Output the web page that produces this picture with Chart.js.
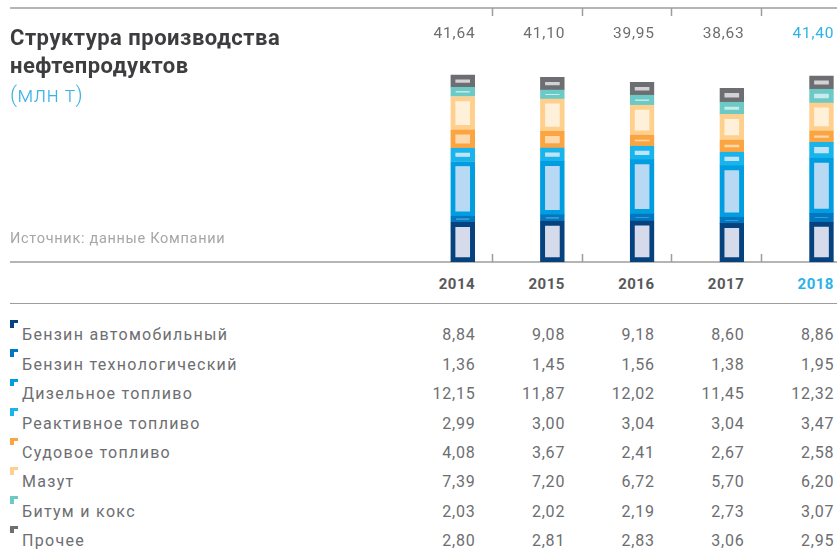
<!DOCTYPE html>
<html>
<head>
<meta charset="utf-8">
<script src="https://cdn.jsdelivr.net/npm/chart.js@4.4.0/dist/chart.umd.min.js"></script>
<style>
body { margin: 0; width: 837px; height: 549px; overflow: hidden; background: #fff; position: relative; font-family: Roboto, sans-serif; }
#chart { position: absolute; left: 0; top: 0; }
.t { position: absolute; white-space: nowrap; line-height: 1; }
.hr { position: absolute; left: 10px; width: 827px; height: 0; border-top: 1.5px solid #9d9d9d; }
.mark { position: absolute; left: 10px; width: 3.5px; height: 4.5px; border-top: 3.5px solid; border-left: 4px solid; }
</style>
</head>
<body>
<canvas id="chart" width="837" height="270"></canvas>
<div class="t" style="left:10px;top:26.5px;font-size:22px;font-weight:700;letter-spacing:0.5px;color:#3d3d3f">Структура производства</div>
<div class="t" style="left:10px;top:55px;font-size:22px;font-weight:700;letter-spacing:0.5px;color:#3d3d3f">нефтепродуктов</div>
<div class="t" style="left:10px;top:84px;font-size:22px;font-weight:300;letter-spacing:0.3px;color:#3fb3e7">(млн т)</div>
<div class="t" style="left:10px;top:231.5px;font-size:14.5px;letter-spacing:0.7px;color:#a6a6a8">Источник: данные Компании</div>
<div class="hr" style="top:303px"></div>
<div id="table"></div>
<script>
var years = ["2014", "2015", "2016", "2017", "2018"];
var totals = [41.64, 41.10, 39.95, 38.63, 41.40];
var products = ["Бензин автомобильный", "Бензин технологический", "Дизельное топливо", "Реактивное топливо",
    "Судовое топливо", "Мазут", "Битум и кокс", "Прочее"];

var benzinAvto = [8.84, 9.08, 9.18, 8.60, 8.86];
var benzinTech = [1.36, 1.45, 1.56, 1.38, 1.95];
var dizel = [12.15, 11.87, 12.02, 11.45, 12.32];
var reaktiv = [2.99, 3.00, 3.04, 3.04, 3.47];
var sudovoe = [4.08, 3.67, 2.41, 2.67, 2.58];
var mazut = [7.39, 7.20, 6.72, 5.70, 6.20];
var bitum = [2.03, 2.02, 2.19, 2.73, 3.07];
var prochee = [2.80, 2.81, 2.83, 3.06, 2.95];

var seriesValues = [benzinAvto, benzinTech, dizel, reaktiv, sudovoe, mazut, bitum, prochee];
var outerColors = ["#06437e", "#0078c1", "#009ee0", "#19b4eb", "#fba542", "#ffcf8d", "#6ccac6", "#6d6e71"];
var innerColors = ["#d5dbea", "#0078c1", "#b7d9f3", "#c0e4f7", "#fed9ac", "#fff0d9", "#c9ecea", "#d2d2d4"];

var grey = "#9d9d9d";
var blue = "#2cb2e8";

function fmt(v) {
    return v.toFixed(2).replace(".", ",");
}

var datasets = seriesValues.map(function(values, k) {
    return {
        label: products[k],
        data: values.map(function(v, i) { return { x: i, y: v }; }),
        backgroundColor: innerColors[k],
        borderColor: outerColors[k],
        borderWidth: 5,
        borderSkipped: false,
        barThickness: 24
    };
});

// top rule, baseline and the short column separators
var framePlugin = {
    id: "frame",
    beforeDatasetsDraw: function(chart) {
        var ctx = chart.ctx;
        var area = chart.chartArea;
        var xs = chart.scales.x;
        var base = chart.scales.y.getPixelForValue(0);
        ctx.save();
        ctx.strokeStyle = grey;
        ctx.lineWidth = 1.5;
        ctx.beginPath();
        ctx.moveTo(area.left, area.top);
        ctx.lineTo(area.right, area.top);
        ctx.moveTo(area.left, base);
        ctx.lineTo(area.right, base);
        for (var i = 0; i < years.length - 1; i++) {
            var px = Math.round(xs.getPixelForValue(i + 0.327)) + 0.5;
            ctx.moveTo(px, area.top);
            ctx.lineTo(px, area.top + 8);
            ctx.moveTo(px, base);
            ctx.lineTo(px, base - 8);
        }
        ctx.stroke();
        ctx.restore();
    }
};

var chart = new Chart(document.getElementById("chart").getContext("2d"), {
    type: "bar",
    data: { datasets: datasets },
    options: {
        responsive: false,
        animation: false,
        layout: { padding: { left: 10, right: 0, top: 8, bottom: 8 } },
        plugins: { legend: { display: false }, tooltip: { enabled: false } },
        scales: {
            x: {
                type: "linear",
                display: false,
                stacked: true,
                offset: false,
                min: -5.047,
                max: 4.173,
                grid: { offset: false }
            },
            y: {
                display: false,
                stacked: true,
                min: 0,
                max: 56.5
            }
        }
    },
    plugins: [framePlugin]
});

// columns of text are right-aligned to the bars' right edges
var xs = chart.scales.x;
var rights = years.map(function(y, i) { return 837 - (xs.getPixelForValue(i) + 12); });

function cell(i, top, css, text) {
    return '<div class="t" style="right:' + rights[i] + 'px;margin-right:' + css.ls * -1 + 'px;top:' + top +
        'px;letter-spacing:' + css.ls + 'px;' + css.s + '">' + text + '</div>';
}

var html = "";
totals.forEach(function(v, i) {
    html += cell(i, 26, { ls: 0.8, s: "font-size:15.5px;color:" + (i === 4 ? blue : "#6d6e71") }, fmt(v));
});
years.forEach(function(y, i) {
    html += cell(i, 277, { ls: 0.5, s: "font-size:15px;font-weight:700;color:" + (i === 4 ? blue : "#58595b") }, y);
});
products.forEach(function(name, k) {
    var base = 340.7 + k * 29.4;
    html += '<div class="mark" style="top:' + (base - 20.7) + 'px;border-color:' + outerColors[k] + '"></div>';
    html += '<div class="t" style="left:22px;top:' + (base - 13.4) + 'px;font-size:16px;letter-spacing:1.3px;color:#6d6e71">' + name + '</div>';
    seriesValues[k].forEach(function(v, i) {
        html += cell(i, base - 13.4, { ls: 0.8, s: "font-size:16px;color:#6d6e71" }, fmt(v));
    });
});
document.getElementById("table").innerHTML = html;
</script>
</body>
</html>
